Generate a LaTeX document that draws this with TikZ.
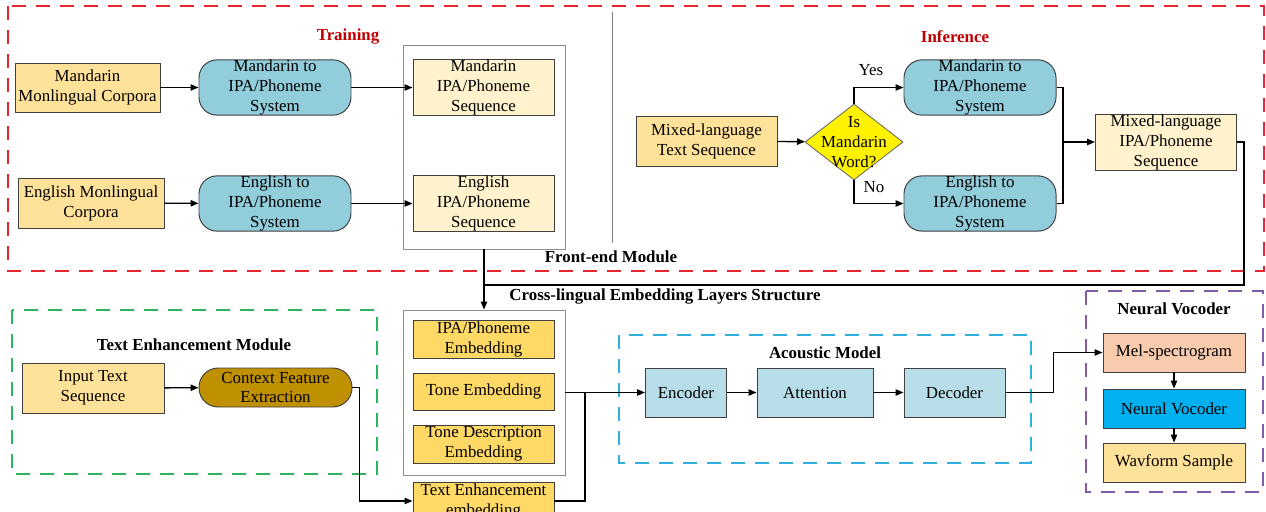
\documentclass[tikz,border=0pt]{standalone}
\usepackage{fontspec}
\setmainfont{Liberation Serif}
\usetikzlibrary{arrows.meta,shapes.geometric}
\definecolor{corpus}{HTML}{FFE299}
\definecolor{seqfill}{HTML}{FFF2CC}
\definecolor{gtopfill}{HTML}{92CDDC}
\definecolor{embfill}{HTML}{FFD966}
\definecolor{ctxfill}{HTML}{BF9000}
\definecolor{acfill}{HTML}{B7DEE8}
\definecolor{melfill}{HTML}{F8CBAD}
\definecolor{vocfill}{HTML}{00B0F0}
\definecolor{redframe}{HTML}{E8262E}
\definecolor{greenframe}{HTML}{2EB45E}
\definecolor{blueframe}{HTML}{2FAEE0}
\definecolor{purpleframe}{HTML}{7F5BA8}
\definecolor{titlered}{HTML}{C00000}
\newcommand{\fs}{\fontsize{12}{14.2}\selectfont}
\tikzset{
	sz/.style 2 args={minimum width=#1*0.25mm, minimum height=#2*0.25mm}, % {w}{h} en pixels
	blk/.style={draw=black!75, line width=0.7pt, align=center, inner sep=0pt, font=\fs},
	g2p/.style={blk, fill=gtopfill, rounded corners=4.5mm},
	container/.style={draw=black!45, line width=0.6pt, inner sep=0pt},
	frame/.style={line width=1.1pt, dash pattern=on 3.6mm off 2.4mm},
	ttl/.style={font=\fs\bfseries, inner sep=0pt},
	lbl/.style={font=\fs, inner sep=0pt},
	arr/.style={line width=1pt, -{Triangle[length=2mm,width=1.6mm]}},
	ln/.style={line width=1pt}
}
\begin{document}
\begin{tikzpicture}[x=0.25mm,y=-0.25mm]
	\useasboundingbox (0,0) rectangle (1266,511);
	\clip (0,0) rectangle (1266,511);

	% cadres
	\draw[frame, draw=redframe] (8,6) rectangle (1264,271);
	\draw[black!50, line width=0.6pt] (612,12) -- (612,243);
	\draw[frame, draw=greenframe] (12,310) rectangle (377,474);
	\draw[frame, draw=blueframe] (619,335) rectangle (1031,463);
	\draw[frame, draw=purpleframe] (1086,291) rectangle (1263,492);

	\node[ttl, text=titlered] (train) at (348,37) {Training};
	\node[ttl, text=titlered] (infer) at (955,37) {Inference};
	\node[ttl] (fem) at (611,257) {Front-end Module};
	\node[ttl] (clel) at (665,297) {Cross-lingual Embedding Layers Structure};
	\node[ttl] (tem) at (194,345) {Text Enhancement Module};
	\node[ttl] (am) at (825,353) {Acoustic Model};
	\node[ttl] (nvt) at (1174,309) {Neural Vocoder};

	% training
	\node[container, sz={162}{204}] (trainbox) at (484,147) {};
	\node[blk, fill=corpus, sz={145}{49}] (mcorp) at (87.5,87.5) {Mandarin\\Monlingual Corpora};
	\node[g2p, sz={152}{55}] (mg2p) at (275,87.5) {Mandarin to\\IPA/Phoneme\\System};
	\node[blk, fill=seqfill, sz={141}{55}] (mseq) at (483.5,87.5) {Mandarin\\IPA/Phoneme\\Sequence};
	\node[blk, fill=corpus, sz={146}{50}] (ecorp) at (91,203) {English Monlingual\\Corpora};
	\node[g2p, sz={152}{55}] (eg2p) at (275,203.5) {English to\\IPA/Phoneme\\System};
	\node[blk, fill=seqfill, sz={141}{55}] (eseq) at (483.5,203.5) {English\\IPA/Phoneme\\Sequence};
	\draw[arr] (mcorp) -- (mg2p);
	\draw[arr] (mg2p) -- (mseq);
	\draw[arr] (ecorp) -- (eg2p);
	\draw[arr] (eg2p) -- (eseq);

	% inference
	\node[blk, fill=corpus, sz={141}{50}] (mixtext) at (706.5,141) {Mixed-language\\Text Sequence};
	\node[diamond, draw=black!60, line width=0.6pt, fill=yellow, inner sep=0pt, sz={98}{76}] (isman) at (854,142) {};
	\node[lbl, align=center] (ismantxt) at (isman.center) {Is\\Mandarin\\Word?};
	\node[g2p, sz={152}{55}] (mg2pI) at (980,87.5) {Mandarin to\\IPA/Phoneme\\System};
	\node[g2p, sz={152}{55}] (eg2pI) at (980,203.5) {English to\\IPA/Phoneme\\System};
	\node[blk, fill=seqfill, sz={141}{56}] (mixseq) at (1166,142) {Mixed-language\\IPA/Phoneme\\Sequence};
	\node[lbl] (yes) at (871,70) {Yes};
	\node[lbl] (no) at (874,187) {No};
	\coordinate (merge) at (1063,142);
	\draw[arr] (mixtext) -- (isman);
	\draw[arr] (isman.north) |- (mg2pI.west);
	\draw[arr] (isman.south) |- (eg2pI.west);
	\draw[ln] (mg2pI.east) -| (merge) |- (eg2pI.east);
	\draw[arr] (merge) -- (mixseq.west);

	% embeddings
	\node[container, sz={162}{165}] (embbox) at (484,392.5) {};
	\node[blk, fill=embfill, sz={141}{38}] (ipaemb) at (483.5,339) {IPA/Phoneme\\Embedding};
	\node[blk, fill=embfill, sz={141}{37}] (toneemb) at (483.5,391.5) {Tone Embedding};
	\node[blk, fill=embfill, sz={141}{38}] (tdemb) at (483.5,444) {Tone Description\\Embedding};
	\node[blk, fill=embfill, sz={141}{38}] (teemb) at (483.5,501) {Text Enhancement\\embedding};
	\coordinate (fejoin) at (484,285);
	\coordinate (feright) at (1244,285);
	\draw[ln] (trainbox.south) -- (fejoin);
	\draw[arr] (mixseq.east) -| (feright) -- (fejoin) -- (embbox.north);

	% text enhancement
	\node[blk, fill=corpus, sz={142}{50}] (intext) at (93,388) {Input Text\\Sequence};
	\node[blk, fill=ctxfill, rounded corners=4.8mm, sz={153}{39}] (ctx) at (275.5,387.5) {Context Feature\\Extraction};
	\draw[arr] (intext) -- (ctx);
	\draw[arr] (ctx.east) -- ++(7,0) |- (teemb.west);

	% acoustic model
	\node[blk, fill=acfill, sz={81}{49}] (enc) at (686,392.5) {Encoder};
	\node[blk, fill=acfill, sz={116}{49}] (att) at (815,392.5) {Attention};
	\node[blk, fill=acfill, sz={101}{49}] (dec) at (954.5,392.5) {Decoder};
	\coordinate (embjoin) at (585,392.5);
	\draw[arr] (embbox.east) -- (enc.west);
	\draw[ln] (teemb.east) -| (embjoin);
	\draw[arr] (enc) -- (att);
	\draw[arr] (att) -- (dec);

	% vocoder
	\node[blk, fill=melfill, sz={142}{39}] (mel) at (1174,352.5) {Mel-spectrogram};
	\node[blk, fill=vocfill, sz={142}{39}] (nv) at (1174,408.5) {Neural Vocoder};
	\node[blk, fill=corpus, sz={142}{39}] (wav) at (1174,462.5) {Wavform Sample};
	\draw[arr] (dec.east) -- ++(48,0) |- (mel.west);
	\draw[arr] (mel) -- (nv);
	\draw[arr] (nv) -- (wav);
\end{tikzpicture}
\end{document}
